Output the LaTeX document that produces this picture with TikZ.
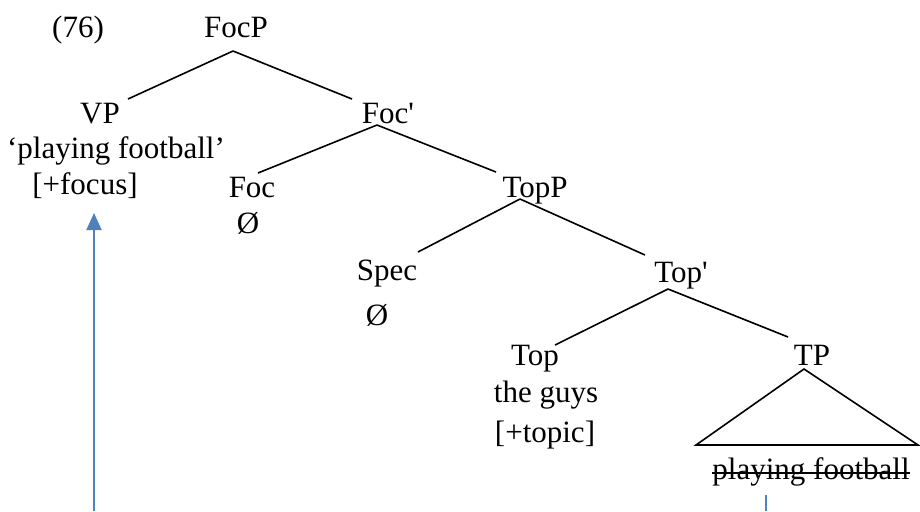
\documentclass[tikz,border=0pt]{standalone}
\usepackage{fontspec}
\setmainfont{Liberation Serif}
\usetikzlibrary{arrows.meta,calc}
\definecolor{arrowblue}{RGB}{79,129,189}
\begin{document}
\begin{tikzpicture}[x=0.5pt,y=-0.5pt,
  lbl/.style={anchor=base,inner sep=0pt,font=\fontsize{15.5}{18}\selectfont},
  branch/.style={line width=0.8pt,line cap=butt},
  movearrow/.style={draw=arrowblue,line width=1pt,-{Triangle[length=8.5pt,width=7.5pt]}},
  moveline/.style={draw=arrowblue,line width=1pt}]
\useasboundingbox (0,0) rectangle (920,511);
% labels
\node[lbl] (num) at (78,37) {(76)};
\node[lbl] (focp) at (236,37) {FocP};
\node[lbl] (vp) at (100,123) {VP};
\node[lbl] (vpgloss) at (116,158) {`playing football'};
\node[lbl] (vpfeat) at (85,194) {[+focus]};
\node[lbl] (focbar) at (388,123) {Foc\textquotesingle};
\node[lbl] (foc) at (252,197) {Foc};
\node[lbl] (focnull) at (248,233) {Ø};
\node[lbl] (topp) at (535,197) {TopP};
\node[lbl] (spec) at (387,280) {Spec};
\node[lbl] (specnull) at (377,325) {Ø};
\node[lbl] (topbar) at (681,282) {Top\textquotesingle};
\node[lbl] (top) at (535,365) {Top};
\node[lbl] (guys) at (546,402) {the guys};
\node[lbl] (topfeat) at (545,442) {[+topic]};
\node[lbl] (tp) at (812,365) {TP};
\node[lbl] (pf) at (811,479) {playing football};
% branch endpoints
\coordinate (focp-b) at (233,51);
\coordinate (vp-t) at (128,99);
\coordinate (focbar-t) at (352,99);
\coordinate (focbar-b) at (377,125);
\coordinate (foc-t) at (258,173);
\coordinate (topp-t) at (496,172);
\coordinate (topp-b) at (520,199);
\coordinate (spec-t) at (418,252);
\coordinate (topbar-t) at (645,255);
\coordinate (topbar-b) at (668,289);
\coordinate (top-t) at (555,345);
\coordinate (tp-t) at (788,337);
\coordinate (tri-apex) at (804,369);
\coordinate (tri-l) at (696,445);
\coordinate (tri-r) at (918,445);
\coordinate (arrow-start) at (94,511);
\coordinate (arrow-end) at (94,213);
\coordinate (trace-top) at (766,495);
\coordinate (trace-bot) at (766,511);
% branches
\draw[branch] (focp-b) -- (vp-t);
\draw[branch] (focp-b) -- (focbar-t);
\draw[branch] (focbar-b) -- (foc-t);
\draw[branch] (focbar-b) -- (topp-t);
\draw[branch] (topp-b) -- (spec-t);
\draw[branch] (topp-b) -- (topbar-t);
\draw[branch] (topbar-b) -- (top-t);
\draw[branch] (topbar-b) -- (tp-t);
\draw[branch,line join=miter] (tri-apex) -- (tri-l) -- (tri-r) -- cycle;
% strike-through
\draw[line width=0.8pt] ($(pf.base west)+(0,-6)$) -- ($(pf.base east)+(0,-6)$);
% movement
\draw[movearrow] (arrow-start) -- (arrow-end);
\draw[moveline] (trace-top) -- (trace-bot);
\end{tikzpicture}
\end{document}
